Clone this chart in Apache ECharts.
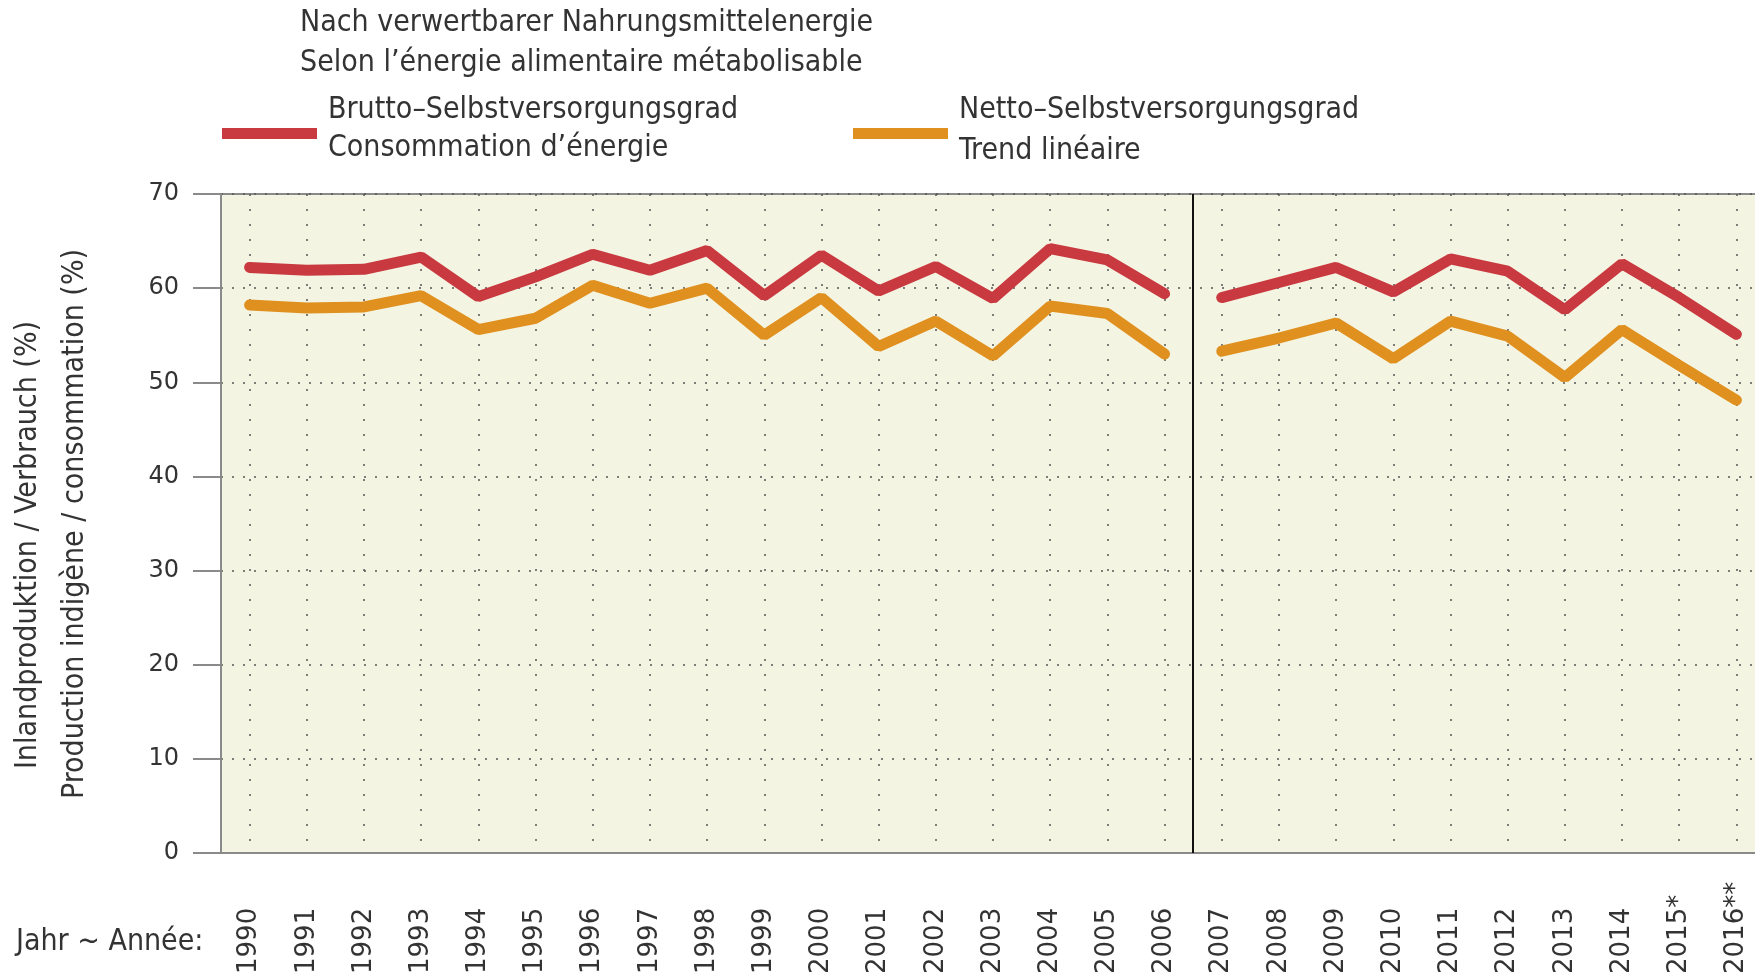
<!DOCTYPE html>
<html>
<head>
<meta charset="utf-8">
<script src="https://cdn.jsdelivr.net/npm/echarts@6/dist/echarts.min.js"></script>
<style>
    html, body {margin: 0; padding: 0; background: #fff;}
    #main {width: 1755px; height: 979px;}
</style>
</head>
<body>
<div id="main"></div>
<script>
var years = ['1990', '1991', '1992', '1993', '1994', '1995', '1996', '1997', '1998', '1999',
    '2000', '2001', '2002', '2003', '2004', '2005', '2006', '2007', '2008', '2009',
    '2010', '2011', '2012', '2013', '2014', '2015*', '2016**'];
// Brutto-Selbstversorgungsgrad (%)
var brutto = [62.2, 61.9, 62.0, 63.3, 59.1, 61.2, 63.6, 61.9, 64.0, 59.2,
    63.5, 59.7, 62.3, 58.9, 64.2, 63.0, 59.4, 59.0, 60.6, 62.2,
    59.6, 63.1, 61.8, 57.7, 62.6, 59.0, 55.1];
// Netto-Selbstversorgungsgrad (%)
var netto = [58.2, 57.9, 58.0, 59.2, 55.6, 56.8, 60.3, 58.4, 60.0, 55.0,
    59.0, 53.8, 56.5, 52.8, 58.1, 57.3, 53.0, 53.3, 54.7, 56.3,
    52.5, 56.5, 54.9, 50.5, 55.6, 51.8, 48.1];
var breakIndex = 17; // Bruch zwischen 2006 und 2007
var yMin = 0, yMax = 70, yStep = 10;

var condFont = "'DejaVu Sans Condensed', 'Liberation Sans Narrow', sans-serif";
var numFont = "'DejaVu Sans', sans-serif";
var red = '#c93a40', orange = '#e0901f', gray = '#8a8a8a';

// vor / nach dem Bruch aufteilen
function part(arr, second) {
    return arr.map(function (v, i) {
        return (second ? i >= breakIndex : i < breakIndex) ? v : '-';
    });
}

function lineSeries(name, arr, color, second) {
    return {
        name: name,
        type: 'line',
        data: part(arr, second),
        symbol: 'none',
        connectNulls: false,
        lineStyle: {color: color, width: 11, cap: 'round'},
        z: 5
    };
}

function txt(str, x, y, rot) {
    return {
        type: 'text',
        x: x,
        y: y,
        rotation: rot || 0,
        style: {
            text: str,
            font: '30px ' + condFont,
            fill: '#333',
            align: rot ? 'center' : 'left',
            textAlign: rot ? 'center' : 'left',
            verticalAlign: 'middle',
            textVerticalAlign: 'middle'
        }
    };
}

var chart = echarts.init(document.getElementById('main'));
chart.setOption({
    animation: false,
    backgroundColor: '#fff',
    grid: {
        left: 221, top: 194, width: 1544, height: 659,
        outerBoundsMode: 'none',
        containLabel: false,
        show: true,
        backgroundColor: '#f4f4e3',
        borderColor: gray,
        borderWidth: 2
    },
    xAxis: [{
        type: 'category',
        data: years,
        boundaryGap: true,
        axisLine: {lineStyle: {color: gray, width: 2}},
        axisTick: {alignWithLabel: true, length: 37, interval: 0, lineStyle: {color: gray, width: 2}},
        axisLabel: {
            rotate: 90, margin: 121, align: 'left', interval: 0,
            color: '#333', fontSize: 26, fontFamily: numFont
        },
        splitLine: {
            show: true, alignWithLabel: true, interval: 0,
            lineStyle: {color: '#555', width: 1.5, type: [2, 13]}
        }
    }, {
        type: 'value', show: false, min: 0, max: years.length
    }],
    yAxis: {
        type: 'value',
        min: yMin, max: yMax, interval: yStep,
        axisLine: {show: true, lineStyle: {color: gray, width: 2}},
        axisTick: {show: true, length: 28, lineStyle: {color: gray, width: 2}},
        axisLabel: {margin: 42, color: '#333', fontSize: 24, fontFamily: numFont},
        splitLine: {show: true, lineStyle: {color: '#555', width: 1.5, type: [2, 9]}}
    },
    series: [
        lineSeries('Brutto', brutto, red, false),
        lineSeries('Brutto', brutto, red, true),
        lineSeries('Netto', netto, orange, false),
        lineSeries('Netto', netto, orange, true),
        {
            type: 'line',
            xAxisIndex: 1,
            data: [],
            markLine: {
                silent: true,
                symbol: 'none',
                label: {show: false},
                lineStyle: {color: '#111', width: 2, type: 'solid'},
                data: [{xAxis: breakIndex}]
            }
        }
    ],
    graphic: [
        txt('Nach verwertbarer Nahrungsmittelenergie', 300, 23),
        txt('Selon l\u2019énergie alimentaire métabolisable', 300, 63),
        {type: 'rect', shape: {x: 222, y: 128, width: 95, height: 11}, style: {fill: red}},
        txt('Brutto\u2013Selbstversorgungsgrad', 328, 110),
        txt('Consommation d\u2019énergie', 328, 148),
        {type: 'rect', shape: {x: 853, y: 128, width: 95, height: 11}, style: {fill: orange}},
        txt('Netto\u2013Selbstversorgungsgrad', 959, 110),
        txt('Trend linéaire', 959, 151),
        txt('Jahr ~ Année:', 16, 942),
        txt('Inlandproduktion / Verbrauch (%)', 28, 545, Math.PI / 2),
        txt('Production indigène / consommation (%)', 75, 524, Math.PI / 2)
    ]
});
</script>
</body>
</html>
